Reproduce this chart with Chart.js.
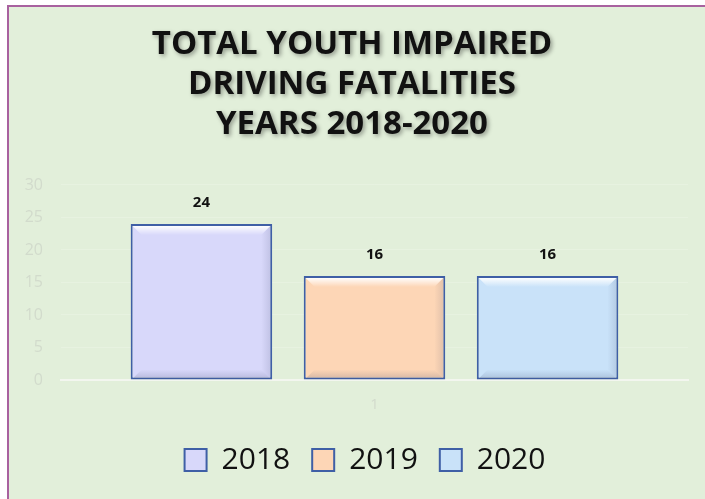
<!DOCTYPE html>
<html>
<head>
<meta charset="utf-8">
<script src="https://cdn.jsdelivr.net/npm/chart.js@4.4.0/dist/chart.umd.min.js"></script>
<style>
  html, body { margin: 0; padding: 0; background: #fff; }
  #wrap { width: 705px; height: 499px; }
</style>
</head>
<body>
<div id="wrap"><canvas id="myChart" width="705" height="499"></canvas></div>
<script>
const categories = ["1"];
const years = ["2018", "2019", "2020"];
const fatalities2018 = [24];
const fatalities2019 = [16];
const fatalities2020 = [16];
const yTicks = [0, 5, 10, 15, 20, 25, 30];

const barColors = ["#d8d8fa", "#fdd6b6", "#c9e2f9"];

// green panel with purple frame on top and left
const panelBg = {
  id: "panelBg",
  afterLayout(chart) {
    // legend and title sit a bit right of centre in the original
    if (chart.legend) chart.legend.left += 34;
    if (chart.titleBlock) chart.titleBlock.left += 8;
  },
  beforeDraw(chart) {
    const ctx = chart.ctx;
    ctx.save();
    ctx.fillStyle = "#ffffff";
    ctx.fillRect(0, 0, chart.width, chart.height);
    ctx.fillStyle = "#e2efda";
    ctx.fillRect(8, 6, chart.width, chart.height);
    ctx.fillStyle = "#a8619f";
    ctx.fillRect(7, 5, chart.width, 2);
    ctx.fillRect(7, 5, 2, chart.height);
    ctx.restore();

    // soft shadow under the title text
    const tb = chart.titleBlock;
    if (tb && !tb._shadowed) {
      const orig = tb.draw.bind(tb);
      tb.draw = function () {
        const c = chart.ctx;
        c.save();
        c.shadowColor = "rgba(0,0,0,0.35)";
        c.shadowBlur = 4;
        c.shadowOffsetX = 2;
        c.shadowOffsetY = 2;
        orig();
        c.restore();
      };
      tb._shadowed = true;
    }
  },
};

// bevel look + value labels on the bars
const barDecor = {
  id: "barDecor",
  afterDatasetsDraw(chart) {
    const ctx = chart.ctx;
    chart.data.datasets.forEach((ds, i) => {
      const meta = chart.getDatasetMeta(i);
      meta.data.forEach((bar, j) => {
        const { x, y, base, width } = bar.getProps(["x", "y", "base", "width"], true);
        const l = x - width / 2 + 2;
        const r = x + width / 2 - 2;
        const t = y + 2;
        const b = base - 1;
        const d = 9;
        ctx.save();
        let g = ctx.createLinearGradient(0, t, 0, t + d);
        g.addColorStop(0, "rgba(255,255,255,0.95)");
        g.addColorStop(1, "rgba(255,255,255,0)");
        ctx.fillStyle = g;
        ctx.beginPath();
        ctx.moveTo(l, t);
        ctx.lineTo(r, t);
        ctx.lineTo(r - d, t + d);
        ctx.lineTo(l + d, t + d);
        ctx.closePath();
        ctx.fill();
        g = ctx.createLinearGradient(0, b - d, 0, b);
        g.addColorStop(0, "rgba(40,50,90,0)");
        g.addColorStop(1, "rgba(40,50,90,0.18)");
        ctx.fillStyle = g;
        ctx.beginPath();
        ctx.moveTo(l + d, b - d);
        ctx.lineTo(r - d, b - d);
        ctx.lineTo(r, b);
        ctx.lineTo(l, b);
        ctx.closePath();
        ctx.fill();
        g = ctx.createLinearGradient(r - d, 0, r, 0);
        g.addColorStop(0, "rgba(40,50,90,0)");
        g.addColorStop(1, "rgba(40,50,90,0.12)");
        ctx.fillStyle = g;
        ctx.beginPath();
        ctx.moveTo(r - d, t + d);
        ctx.lineTo(r, t);
        ctx.lineTo(r, b);
        ctx.lineTo(r - d, b - d);
        ctx.closePath();
        ctx.fill();

        ctx.fillStyle = "#111";
        ctx.font = "bold 15px 'Open Sans', sans-serif";
        ctx.textAlign = "center";
        ctx.textBaseline = "middle";
        ctx.fillText(String(ds.data[j]), x, y - 21);
        ctx.restore();
      });
    });
  },
};

const data = {
  labels: categories,
  datasets: [
    { label: years[0], data: fatalities2018, backgroundColor: barColors[0] },
    { label: years[1], data: fatalities2019, backgroundColor: barColors[1] },
    { label: years[2], data: fatalities2020, backgroundColor: barColors[2] },
  ].map((d) => ({
    ...d,
    borderColor: "#3f5fa6",
    borderWidth: 2,
    borderSkipped: false,
    categoryPercentage: 0.828,
    barPercentage: 0.818,
  })),
};

const config = {
  type: "bar",
  data,
  plugins: [panelBg, barDecor],
  options: {
    responsive: false,
    animation: false,
    layout: { padding: { left: 8, right: 17, top: 0, bottom: 14 } },
    scales: {
      x: {
        grid: { display: false, drawTicks: false },
        border: { display: true, color: "#f3f6ef", width: 2 },
        ticks: {
          color: "#d2dbcc",
          padding: 16,
          font: { family: "'Open Sans', sans-serif", size: 15 },
        },
        afterFit(scale) {
          scale.height = 43;
        },
      },
      y: {
        min: yTicks[0],
        max: yTicks[yTicks.length - 1],
        afterBuildTicks(scale) {
          scale.ticks = yTicks.map((v) => ({ value: v }));
        },
        grid: {
          drawTicks: false,
          color: "rgba(255,255,255,0.18)",
        },
        border: { display: false },
        ticks: {
          color: "#d2dbcc",
          padding: 18,
          font: { family: "'Open Sans', sans-serif", size: 16 },
        },
        afterFit(scale) {
          scale.width = 53;
        },
      },
    },
    plugins: {
      title: {
        display: true,
        text: ["TOTAL YOUTH IMPAIRED", "DRIVING FATALITIES", "YEARS 2018-2020"],
        color: "#111",
        font: { family: "'Open Sans', sans-serif", size: 33, weight: "bold", lineHeight: 1.212 },
        padding: { top: 25, bottom: 40 },
      },
      legend: {
        position: "bottom",
        labels: {
          color: "#111",
          boxWidth: 22,
          boxHeight: 22,
          padding: 22,
          font: { family: "'Open Sans', sans-serif", size: 30 },
        },
      },
      tooltip: { enabled: false },
    },
  },
};

const myChart = new Chart(document.getElementById("myChart"), config);
</script>
</body>
</html>
